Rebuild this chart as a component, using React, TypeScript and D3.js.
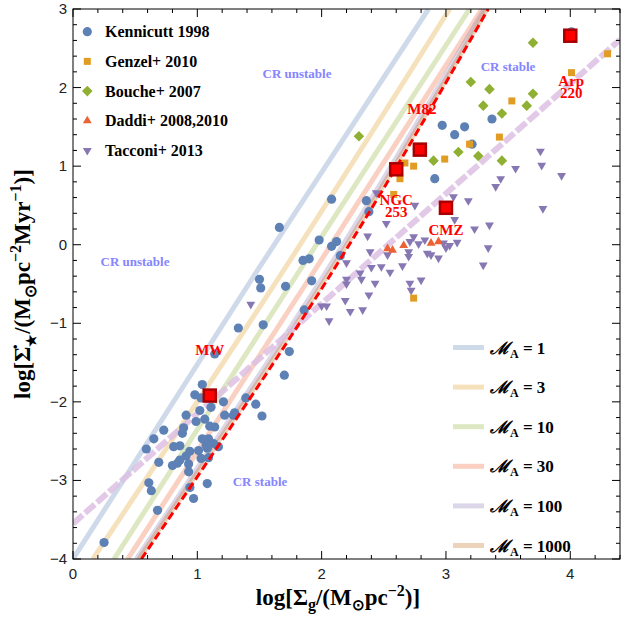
import React from "react";
import * as d3 from "d3";

// observations: [log Sigma_g, log Sigma_SFR]
const kennicutt: [number, number][] = [
  [1.14, -1.39], [1.04, -1.78], [0.98, -1.91], [1.03, -1.95], [1.11, -2.07], [1.21, -2.0],
  [1.39, -1.95], [1.47, -2.03], [1.52, -2.18], [1.7, -1.66], [1.74, -1.36], [1.02, -2.11],
  [0.91, -2.17], [1.06, -2.22], [0.99, -2.25], [1.22, -2.17], [1.3, -2.14], [1.29, -2.17],
  [1.1, -2.31], [1.14, -2.32], [0.89, -2.33], [0.88, -2.4], [0.73, -2.36], [0.65, -2.47],
  [0.59, -2.6], [0.81, -2.57], [0.86, -2.56], [1.04, -2.47], [1.09, -2.47], [1.07, -2.55],
  [1.13, -2.53], [1.17, -2.57], [1.08, -2.59], [0.94, -2.63], [1.01, -2.62], [0.91, -2.69],
  [0.86, -2.74], [0.69, -2.77], [0.8, -2.81], [0.84, -2.78], [1.03, -2.72], [1.09, -2.71],
  [0.93, -2.79], [0.93, -2.89], [0.61, -3.03], [0.63, -3.13], [0.94, -3.09], [0.97, -3.23],
  [1.08, -3.04], [0.68, -3.38], [0.25, -3.79],
  [2.08, 0.58], [1.66, 0.22], [1.98, 0.06], [2.12, 0.04], [2.08, -0.02], [2.15, -0.14],
  [1.85, -0.2], [1.9, -0.18], [1.92, -0.46], [1.5, -0.44], [1.51, -0.55], [1.71, -0.53],
  [1.86, -0.83], [1.53, -1.02], [1.33, -1.06],
  [4.01, 2.71], [3.37, 1.6], [2.97, 1.52], [3.07, 1.4], [3.15, 1.5], [3.21, 1.28],
  [2.77, 1.22], [2.91, 0.84], [2.36, 0.56], [2.38, 0.42],
];

const genzel: [number, number][] = [
  [4.3, 2.43], [4.01, 2.19], [3.53, 1.83], [3.43, 1.37], [3.19, 1.28], [2.99, 1.09],
  [2.67, 1.04], [2.74, 1.0], [2.63, 0.84], [2.58, 0.64], [2.74, -0.68],
];

const bouche: [number, number][] = [
  [3.7, 2.57], [3.2, 2.07], [3.35, 1.98], [3.7, 1.92], [3.3, 1.77], [3.45, 1.67],
  [3.65, 1.77], [3.1, 1.18], [3.26, 1.13], [2.9, 1.07], [3.45, 1.07], [2.3, 1.38],
];

const daddi: [number, number][] = [
  [2.53, -0.05], [2.57, -0.07], [2.66, -0.01], [2.88, 0.02], [2.94, 0.04],
];

const tacconi: [number, number][] = [
  [3.76, 1.19], [3.77, 1.01], [3.56, 0.97], [3.93, 0.88], [3.44, 0.84], [3.4, 0.74], [3.78, 0.46],
  [3.06, 0.61], [3.18, 0.56], [2.75, 0.5], [2.44, 0.66], [2.52, 0.27], [3.07, 0.32], [3.23, 0.2],
  [3.35, 0.25], [2.37, 0.11], [2.74, 0.1], [2.71, 0.04], [2.78, 0.01], [2.83, 0.06], [2.98, 0.02],
  [3.03, -0.01], [3.09, 0.03], [2.39, -0.09], [2.53, -0.13], [2.7, -0.09], [2.7, -0.15],
  [2.85, -0.11], [2.88, -0.13], [2.94, -0.17], [3.0, -0.04], [3.34, -0.04], [2.65, -0.27],
  [2.48, -0.28], [2.4, -0.29], [2.55, -0.35], [3.3, -0.26], [2.43, -0.49], [2.71, -0.49],
  [2.8, -0.45], [2.72, -0.58], [2.31, -0.36], [2.32, -0.44], [2.38, -0.64], [2.2, -0.23],
  [2.2, -0.44], [2.2, -0.5], [2.19, -0.71], [2.23, -0.85], [2.33, -0.83], [1.43, -0.76],
  [2.0, -0.78], [2.04, -0.78], [2.06, -0.97],
];

// named sources
const srcNames = ["MW", "NGC|253", "M82", "CMZ", "Arp|220"];
const srcX = [1.1, 2.6, 2.79, 3.0, 4.0];
const srcY = [-1.92, 0.96, 1.21, 0.47, 2.66];

// model curves, sampled where they cross these heights
const curveY = [-4, -0.36, 3];
const machLabels = ["1", "3", "10", "30", "100", "1000"];
const machX = [
  [0.0, 1.47, 2.86],
  [0.16, 1.68, 3.03],
  [0.33, 1.81, 3.19],
  [0.44, 1.93, 3.29],
  [0.51, 2.03, 3.31],
  [0.53, 2.06, 3.33],
];
const ksX = [0.55, 2.08, 3.34];

// CR stability boundary
const crX = [0, 4.4];
const crY = [-3.55, 2.61];

const seriesNames = ["Kennicutt 1998", "Genzel+ 2010", "Bouche+ 2007", "Daddi+ 2008,2010", "Tacconi+ 2013"];

const machColors = ["#5E81B5", "#E19C24", "#8FB032", "#EB6235", "#8778B3", "#C56E1A"];
const serif = "'Liberation Serif', 'Times New Roman', serif";
const sans = "'Liberation Sans', Arial, sans-serif";

// label offsets (px) from each source marker
const srcOffset: [number, number][] = [[0, -46], [0, 31], [2, -41], [0, 22], [1, 45]];

export default function App() {
  const W = 633;
  const H = 617;
  const x = d3.scaleLinear().domain([0, 4.4]).range([73, 620]);
  const y = d3.scaleLinear().domain([-4, 3]).range([559, 9]);
  const [x0, x1] = x.range();
  const [y0, y1] = y.range();

  const line = d3
    .line<[number, number]>()
    .x((d) => x(d[0]))
    .y((d) => y(d[1]))
    .curve(d3.curveNatural);

  const xMajor = d3.range(0, 5);
  const xMinor = d3.range(0, 4.41, 0.2).filter((v) => Math.abs(v - Math.round(v)) > 0.01);
  const yMajor = d3.range(-4, 4);
  const yMinor = d3.range(-4, 3.01, 0.2).filter((v) => Math.abs(v - Math.round(v)) > 0.01);

  const sq = d3.symbol(d3.symbolSquare, 49)()!;
  const dia = d3.symbol(d3.symbolSquare, 56)()!;
  const tri = d3.symbol(d3.symbolTriangle, 34)()!;

  const marker = (k: number, cx: number, cy: number, key: string) => {
    const c = machColors[k];
    if (k === 0) return <circle key={key} cx={cx} cy={cy} r={4.6} fill={c} />;
    if (k === 1) return <path key={key} d={sq} transform={`translate(${cx},${cy})`} fill={c} />;
    if (k === 2) return <path key={key} d={dia} transform={`translate(${cx},${cy}) rotate(45)`} fill={c} />;
    if (k === 3) return <path key={key} d={tri} transform={`translate(${cx},${cy})`} fill={c} />;
    return <path key={key} d={tri} transform={`translate(${cx},${cy}) rotate(180)`} fill={c} />;
  };

  const groups = [kennicutt, genzel, bouche, daddi, tacconi];
  const drawOrder = [4, 3, 0, 1, 2];

  return (
    <svg width={W} height={H} style={{ display: "block", position: "absolute", left: 0, top: 0 }}>
      <defs>
        <clipPath id="plot">
          <rect x={x0} y={y1} width={x1 - x0} height={y0 - y1} />
        </clipPath>
      </defs>
      <rect width={W} height={H} fill="#fff" />

      <g clipPath="url(#plot)">
        {machX.map((xs, i) => (
          <path
            key={"m" + i}
            d={line(xs.map((v, j) => [v, curveY[j]] as [number, number]))!}
            fill="none"
            stroke={machColors[i]}
            strokeOpacity={0.3}
            strokeWidth={5}
          />
        ))}
        <path
          d={line(crX.map((v, j) => [v, crY[j]] as [number, number]))!}
          fill="none"
          stroke="#dcbfe3"
          strokeOpacity={0.85}
          strokeWidth={6}
          strokeDasharray="13,3"
        />
        {drawOrder.map((k) => groups[k].map((d, i) => marker(k, x(d[0]), y(d[1]), `p${k}-${i}`)))}
        <path
          d={line(ksX.map((v, j) => [v, curveY[j]] as [number, number]))!}
          fill="none"
          stroke="#ff0000"
          strokeWidth={3}
          strokeDasharray="8,4"
        />
        {srcX.map((v, i) => (
          <rect
            key={"s" + i}
            x={x(v) - 6}
            y={y(srcY[i]) - 6}
            width={12}
            height={12}
            fill="#ff0000"
            stroke="#a80000"
            strokeWidth={2.5}
          />
        ))}
      </g>

      {srcNames.map((n, i) => {
        const parts = n.split("|");
        const cx = x(srcX[i]) + srcOffset[i][0];
        const cy = y(srcY[i]) + srcOffset[i][1];
        return (
          <text
            key={"n" + i}
            fontFamily={serif}
            fontWeight="bold"
            fontSize={15}
            fill="#ff0000"
            textAnchor="middle"
          >
            {parts.map((p, j) => (
              <tspan key={j} x={cx} y={cy + 5 + j * 12}>
                {p}
              </tspan>
            ))}
          </text>
        );
      })}

      <g fontFamily={serif} fontWeight="bold" fontSize={13} fill="#8585ff" textAnchor="middle">
        <text x={297} y={77.5}>CR unstable</text>
        <text x={508} y={70.5}>CR stable</text>
        <text x={135} y={265.5}>CR unstable</text>
        <text x={260} y={485.5}>CR stable</text>
      </g>

      {/* frame and ticks */}
      <rect x={x0} y={y1} width={x1 - x0} height={y0 - y1} fill="none" stroke="#000" strokeWidth={1} />
      <g stroke="#000" strokeWidth={1}>
        {xMajor.map((v) => (
          <g key={"xM" + v}>
            <line x1={x(v)} x2={x(v)} y1={y0} y2={y0 - 8} />
            <line x1={x(v)} x2={x(v)} y1={y1} y2={y1 + 8} />
          </g>
        ))}
        {xMinor.map((v, i) => (
          <g key={"xm" + i}>
            <line x1={x(v)} x2={x(v)} y1={y0} y2={y0 - 4} />
            <line x1={x(v)} x2={x(v)} y1={y1} y2={y1 + 4} />
          </g>
        ))}
        {yMajor.map((v) => (
          <g key={"yM" + v}>
            <line x1={x0} x2={x0 + 8} y1={y(v)} y2={y(v)} />
            <line x1={x1} x2={x1 - 8} y1={y(v)} y2={y(v)} />
          </g>
        ))}
        {yMinor.map((v, i) => (
          <g key={"ym" + i}>
            <line x1={x0} x2={x0 + 4} y1={y(v)} y2={y(v)} />
            <line x1={x1} x2={x1 - 4} y1={y(v)} y2={y(v)} />
          </g>
        ))}
      </g>
      <g fontFamily={sans} fontSize={15} fill="#222">
        {xMajor.map((v) => (
          <text key={"xl" + v} x={x(v)} y={y0 + 20} textAnchor="middle">
            {v}
          </text>
        ))}
        {yMajor.map((v) => (
          <text key={"yl" + v} x={x0 - 6} y={y(v) + 5} textAnchor="end">
            {v < 0 ? "\u2212" + Math.abs(v) : v}
          </text>
        ))}
      </g>

      {/* axis titles */}
      <text x={338} y={605} textAnchor="middle" fontFamily={serif} fontWeight="bold" fontSize={23}>
        log[Σ<tspan dy={5} fontSize={16}>g</tspan>
        <tspan dy={-5}>/(M</tspan>
        <tspan dy={5} fontSize={15}>⊙</tspan>
        <tspan dy={-5}>pc</tspan>
        <tspan dy={-9} fontSize={16}>−2</tspan>
        <tspan dy={9}>)]</tspan>
      </text>
      <text
        transform="translate(30,284) rotate(-90)"
        textAnchor="middle"
        fontFamily={serif}
        fontWeight="bold"
        fontSize={23}
      >
        log[Σ̇<tspan dy={6} fontSize={14}>★</tspan>
        <tspan dy={-6}>/(M</tspan>
        <tspan dy={6} fontSize={16}>⊙</tspan>
        <tspan dy={-6}>pc</tspan>
        <tspan dy={-9} fontSize={16}>−2</tspan>
        <tspan dy={9}>Myr</tspan>
        <tspan dy={-9} fontSize={16}>−1</tspan>
        <tspan dy={9}>)]</tspan>
      </text>

      {/* data legend */}
      <g fontFamily={serif} fontWeight="bold" fontSize={16}>
        {seriesNames.map((n, i) => {
          const cy = 31.7 + i * 29.7;
          return (
            <g key={"lg" + i}>
              {marker(i, 87.3, cy, "lm" + i)}
              <text x={105} y={cy + 5.5}>
                {n}
              </text>
            </g>
          );
        })}
      </g>

      {/* Mach number legend */}
      <g fontFamily={serif} fontWeight="bold" fontSize={17}>
        {machLabels.map((m, i) => {
          const cy = 347.5 + i * 39.6;
          return (
            <g key={"ml" + i}>
              <line x1={453} x2={484} y1={cy} y2={cy} stroke={machColors[i]} strokeOpacity={0.3} strokeWidth={5} />
              <text x={490} y={cy + 6}>
                <tspan fontStyle="italic">ℳ</tspan>
                <tspan dy={4} fontSize={12}>A</tspan>
                <tspan dy={-4}> = {m}</tspan>
              </text>
            </g>
          );
        })}
      </g>
    </svg>
  );
}
